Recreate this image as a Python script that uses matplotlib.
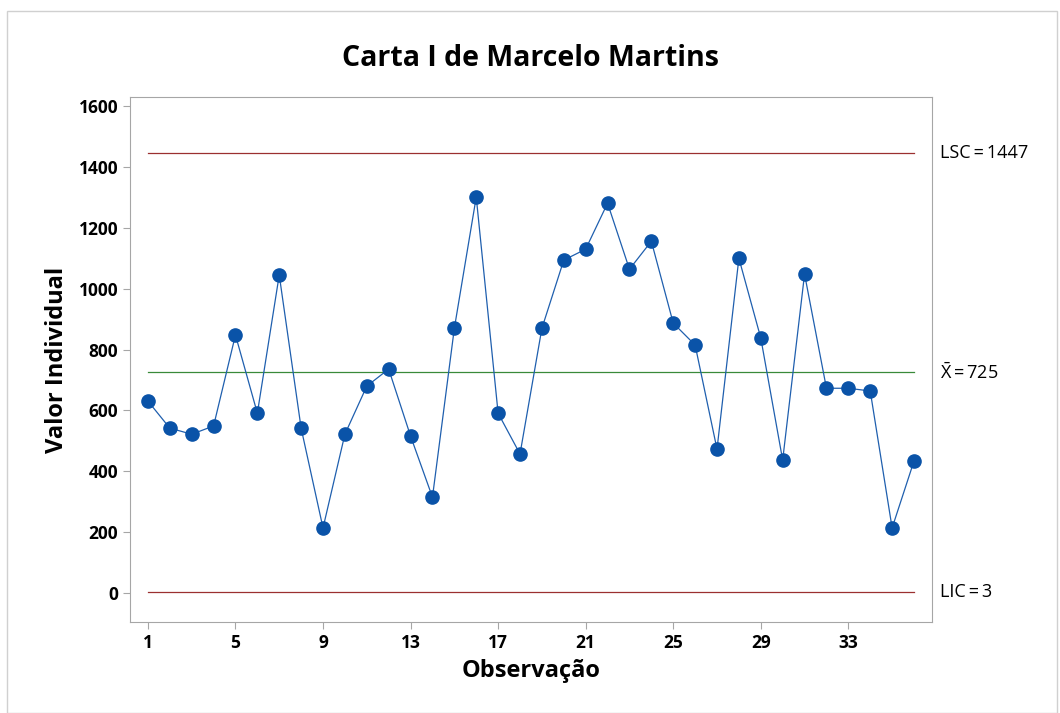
import matplotlib.pyplot as plt

plt.rcParams['font.family'] = ['Open Sans', 'DejaVu Sans']
plt.rcParams['mathtext.fontset'] = 'custom'
plt.rcParams['mathtext.rm'] = 'Open Sans'

# data
obs = list(range(1, 37))
values = [631, 542, 522, 549, 848, 591, 1045, 542, 214, 522,
          680, 736, 516, 315, 870, 1301, 591, 457, 870, 1094,
          1130, 1281, 1064, 1156, 887, 815, 473, 1100, 838, 437,
          1048, 673, 673, 664, 214, 434]
lsc = 1447
media = 725
lic = 3
xticks = [1, 5, 9, 13, 17, 21, 25, 29, 33]
yticks = [0, 200, 400, 600, 800, 1000, 1200, 1400, 1600]

fig = plt.figure(figsize=(10.6, 7.13), dpi=100)
ax = fig.add_axes([0.1226, 0.1276, 0.7566, 0.7364])

# control limits
ax.plot([1, 36], [lsc, lsc], color='#9b3030', lw=0.9)
ax.plot([1, 36], [lic, lic], color='#9b3030', lw=0.9)
ax.plot([1, 36], [media, media], color='#3a8a3a', lw=0.9)

ax.plot(obs, values, color='#1f5fae', lw=0.9, marker='o', markersize=9.5,
        markerfacecolor='#0a53a8', markeredgecolor='#0a53a8', zorder=3)

ax.set_xlim(0.18, 36.82)
ax.set_ylim(-95, 1630)
ax.set_xticks(xticks)
ax.set_yticks(yticks)

for s in ax.spines.values():
    s.set_color('#a6a6a6')
ax.tick_params(colors='#a6a6a6', labelcolor='black', length=5, width=0.8)
for lab in ax.get_xticklabels() + ax.get_yticklabels():
    lab.set_fontsize(12.5)
    lab.set_fontweight('bold')

ax.set_xlabel('Observação', fontsize=17, fontweight='bold', labelpad=5)
ax.set_ylabel('Valor Individual', fontsize=17, fontweight='bold', labelpad=7)
ax.set_title('Carta I de Marcelo Martins', fontsize=20.5, fontweight='bold', pad=22)

# limit labels to the right of the plot
tx = 36.82 + 0.35
ax.text(tx, lsc, 'LSC\u2009=\u20091447', fontsize=13, va='center', ha='left', clip_on=False)
ax.text(tx, media, r'$\bar{\mathrm{X}}$' + '\u2009=\u2009725', fontsize=13, va='center', ha='left', clip_on=False)
ax.text(tx, lic, 'LIC\u2009=\u20093', fontsize=13, va='center', ha='left', clip_on=False)

# light outer frame
fig.patches.append(plt.Rectangle((0.007, 0.0), 0.99, 0.985, transform=fig.transFigure,
                                 fill=False, edgecolor='#d0d0d0', lw=1))

fig.savefig('out.png', dpi=100)
